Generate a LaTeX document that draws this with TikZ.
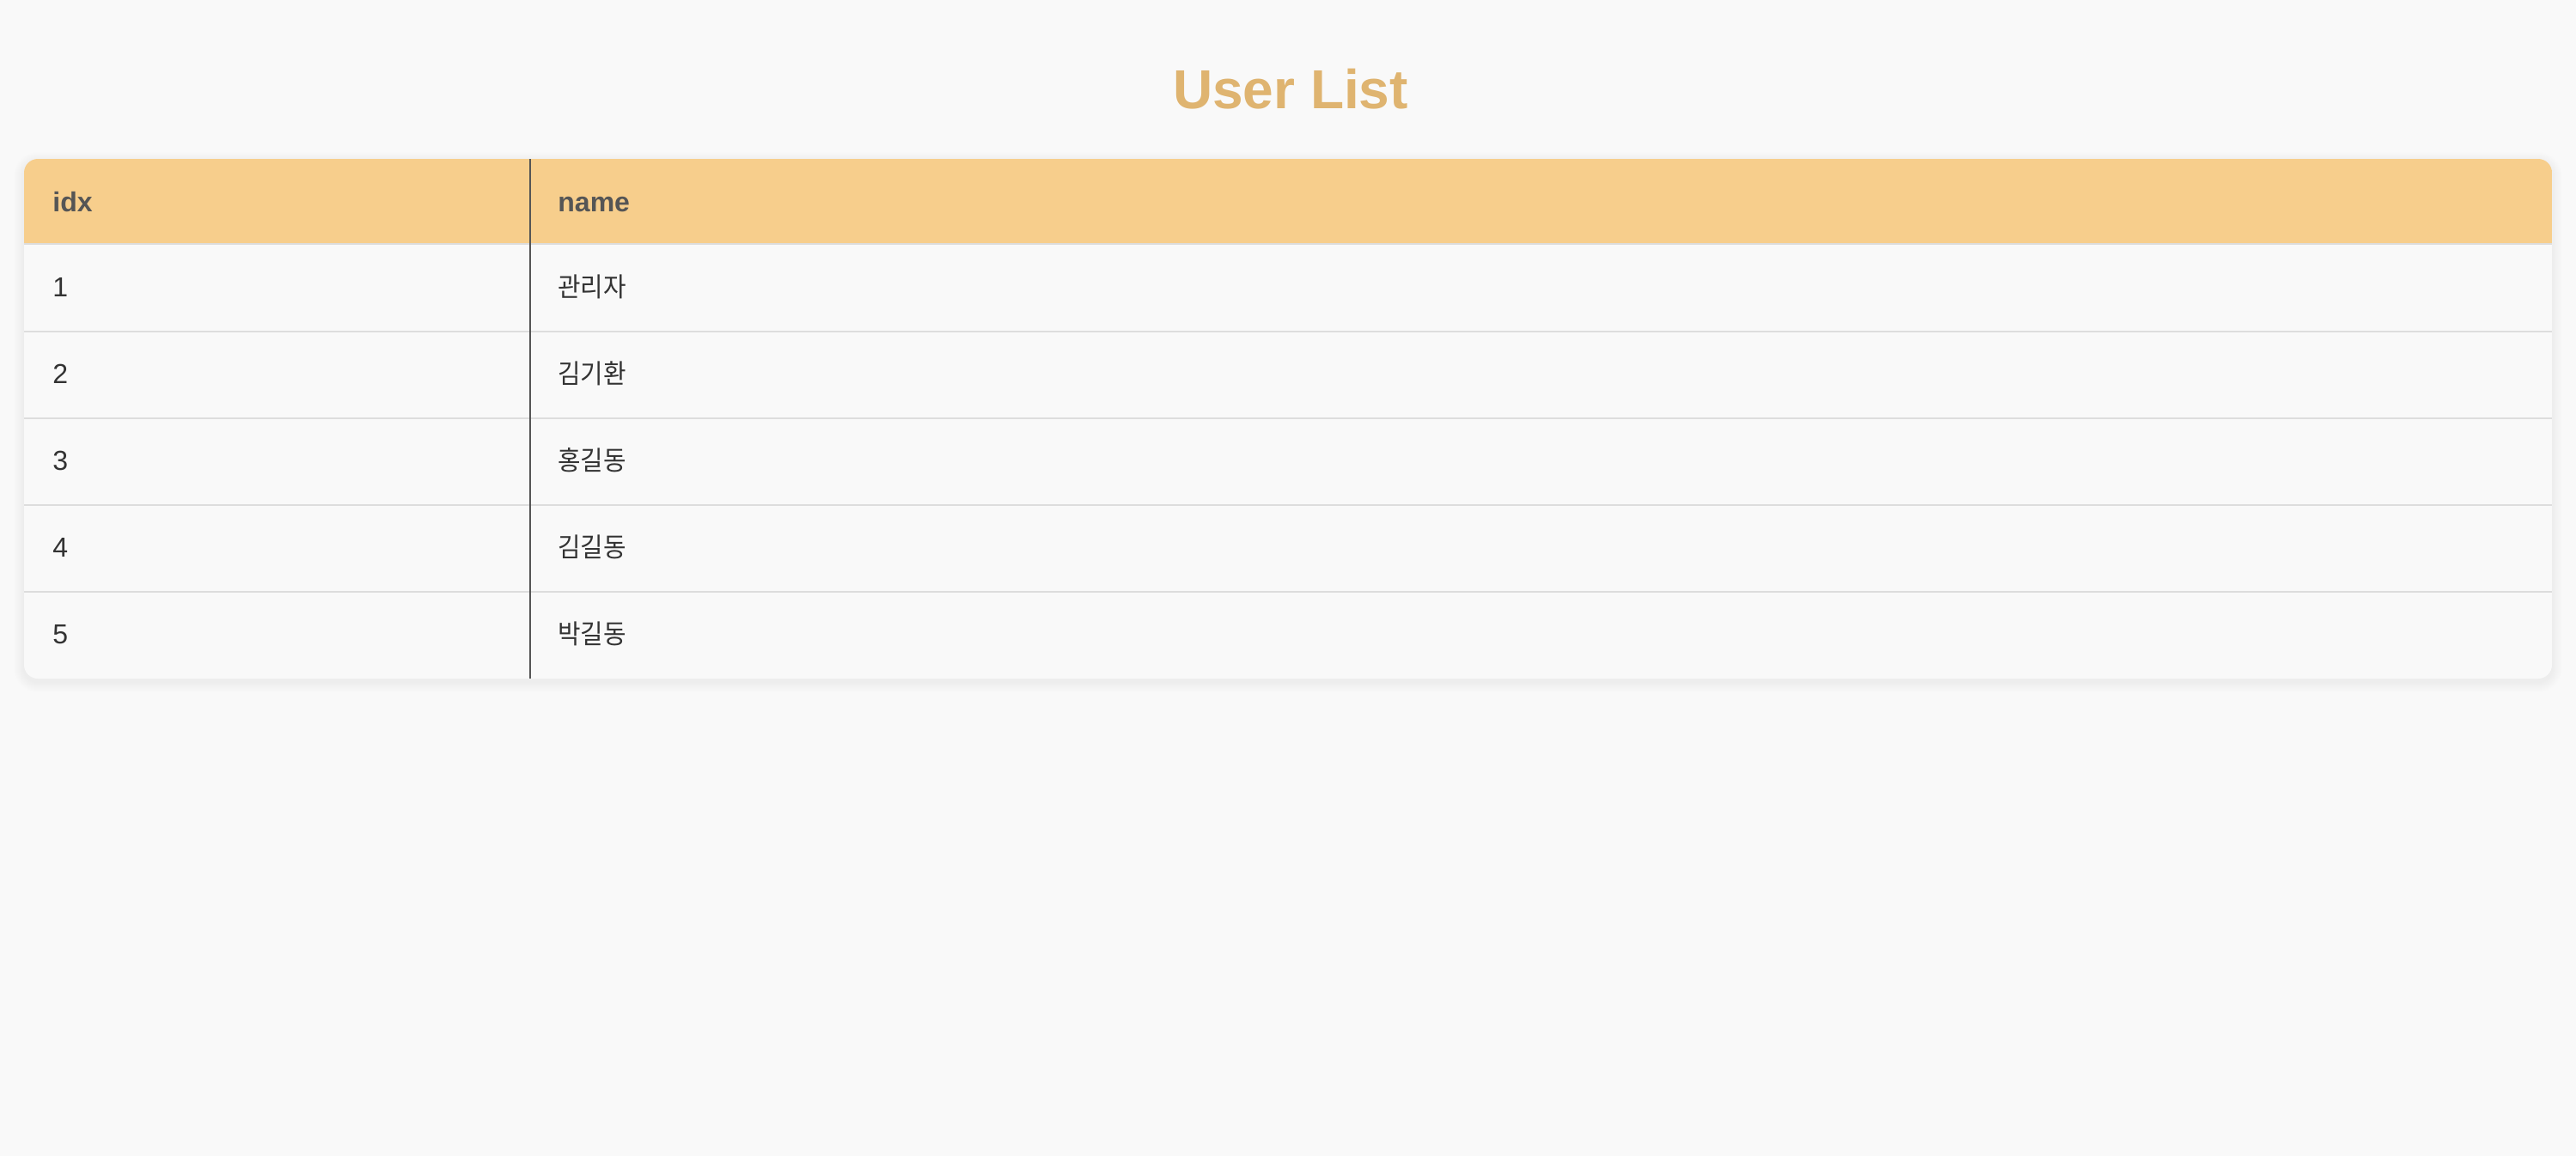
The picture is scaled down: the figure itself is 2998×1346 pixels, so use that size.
\documentclass[tikz,border=0pt]{standalone}
\usepackage{fontspec}
\setmainfont{Liberation Sans}
\newfontfamily\kr[FakeStretch=0.93]{Noto Sans CJK KR}
\definecolor{bgc}{HTML}{F9F9F9}
\definecolor{tablec}{HTML}{F9F9F9}
\definecolor{hdrc}{HTML}{F7CE8C}
\definecolor{titlec}{HTML}{DFB470}
\definecolor{sepc}{HTML}{DDDDDD}
\definecolor{divc}{HTML}{555555}
\definecolor{hdrtext}{HTML}{555555}
\definecolor{bodytext}{HTML}{333333}
\tikzset{
  hdrcell/.style={anchor=base west, inner sep=0pt, text=hdrtext, font=\bfseries\fontsize{16}{19}\selectfont},
  numcell/.style={anchor=base west, inner sep=0pt, text=bodytext, font=\fontsize{16}{19}\selectfont},
  namecell/.style={anchor=base west, inner sep=0pt, text=bodytext, font=\kr\fontsize{15.5}{19}\selectfont},
  sepline/.style={draw=sepc, line width=1pt},
}
\begin{document}
\begin{tikzpicture}[x=0.5pt,y=-0.5pt]
\useasboundingbox (0,0) rectangle (2998,1346);
\fill[bgc] (0,0) rectangle (2998,1346);
% shadow
\foreach \i in {1,...,12}
  \fill[black, opacity=0.005, rounded corners={8pt+\i*0.5pt}] (28-\i,185-\i+4) rectangle (2970+\i,790+\i+4);
% table body
\fill[tablec, rounded corners=8pt] (28,185) rectangle (2970,790);
% header
\begin{scope}
  \clip[rounded corners=8pt] (28,185) rectangle (2970,790);
  \fill[hdrc] (28,185) rectangle (2970,283);
\end{scope}
% separators
\draw[sepline] (28,284) -- (2970,284);
\foreach \y in {386,487,588,689}
  \draw[sepline] (28,\y) -- (2970,\y);
% column divider
\draw[divc, line width=1pt] (617,185) -- (617,790);
% title
\node[anchor=base, inner sep=0pt, text=titlec, font=\bfseries\fontsize{32}{38}\selectfont] (title) at (1502,126) {User List};
% header cells
\node[hdrcell] (hidx) at (61,246) {idx};
\node[hdrcell] (hname) at (649,246) {name};
% rows
\node[numcell] (i1) at (61,345) {1};
\node[namecell] (n1) at (649,345) {관리자};
\node[numcell] (i2) at (61,446) {2};
\node[namecell] (n2) at (649,446) {김기환};
\node[numcell] (i3) at (61,547) {3};
\node[namecell] (n3) at (649,547) {홍길동};
\node[numcell] (i4) at (61,648) {4};
\node[namecell] (n4) at (649,648) {김길동};
\node[numcell] (i5) at (61,749) {5};
\node[namecell] (n5) at (649,749) {박길동};
\end{tikzpicture}
\end{document}
